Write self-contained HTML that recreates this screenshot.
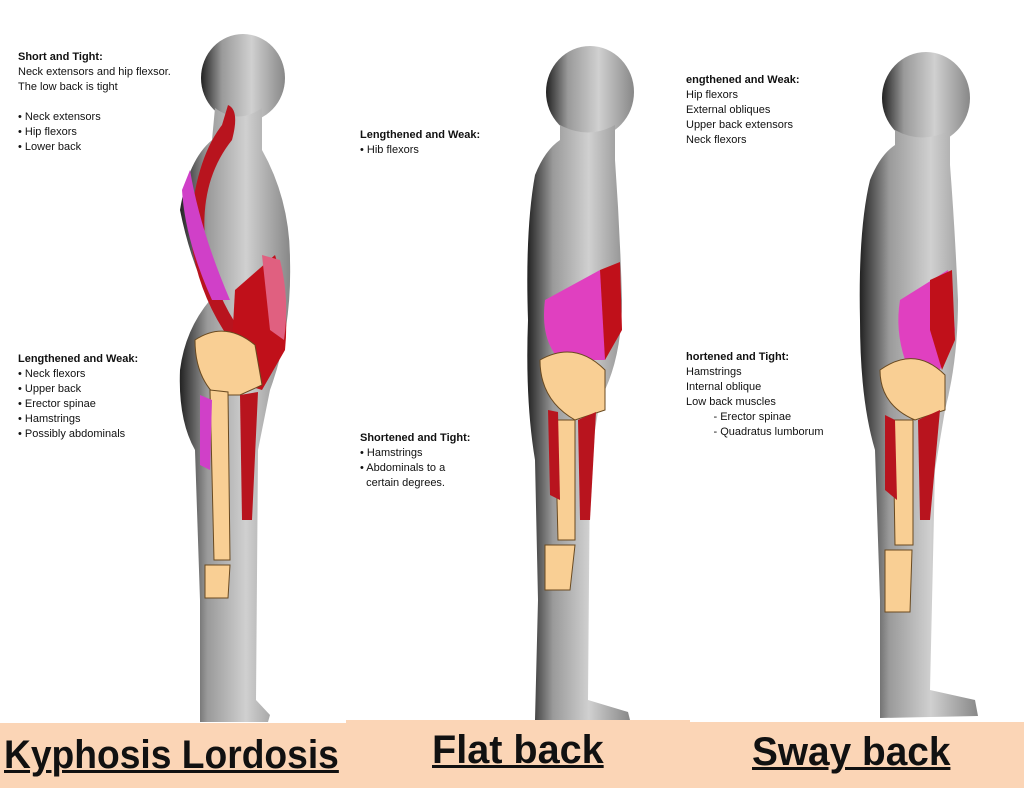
<!DOCTYPE html>
<html><head><meta charset="utf-8"><style>
html,body{margin:0;padding:0;background:#fff}
#w{position:relative;width:1024px;height:788px;overflow:hidden;font-family:"Liberation Sans",Arial,sans-serif}
.t{position:absolute;font-size:11px;line-height:15px;color:#111}
.t b{font-weight:bold}
.band{position:absolute;background:#fbd5b6}
.lab{position:absolute;font-family:"Liberation Sans Narrow","Liberation Sans",sans-serif;font-weight:bold;font-size:40px;text-decoration:underline;text-decoration-thickness:3px;color:#111;white-space:nowrap;transform-origin:0 0}
</style></head><body><div id="w">
<svg width="1024" height="788" style="position:absolute;left:0;top:0">
<defs>
<linearGradient id="g" x1="0" x2="1"><stop offset="0" stop-color="#222"/><stop offset=".25" stop-color="#9a9a9a"/><stop offset=".6" stop-color="#d0d0d0"/><stop offset="1" stop-color="#888"/></linearGradient>
</defs>
<!-- Figure 1 -->
<g fill="url(#g)">
<ellipse cx="243" cy="78" rx="42" ry="44"/>
<path d="M215 108 Q238 125 262 108 L262 150 Q290 200 290 260 Q292 330 270 390 L258 450 L256 700 L270 715 L268 722 L200 722 L200 600 L195 450 Q178 420 180 370 Q185 330 210 300 Q190 260 180 210 Q188 160 212 140 Z"/>
</g>
<path d="M228 105 Q240 110 232 140 Q200 180 205 240 Q212 290 240 330 L230 340 Q195 290 190 230 Q195 160 222 125 Z" fill="#b8141e"/>
<path d="M190 170 Q200 230 230 300 L212 300 Q185 240 182 190 Z" fill="#d040c8"/>
<path d="M235 290 L275 255 Q290 300 285 350 L262 390 L230 380 Z" fill="#c0101a"/>
<path d="M262 255 L280 260 Q290 300 284 340 L270 330 Z" fill="#e06080"/>
<path d="M195 340 Q225 320 255 345 L262 385 L240 395 L215 395 Q195 375 195 340 Z" fill="#f9cf94" stroke="#6a4a20" stroke-width="1"/>
<path d="M210 390 L228 392 L230 560 L214 560 Z" fill="#f9cf94" stroke="#6a4a20"/>
<path d="M205 565 L230 565 L228 598 L205 598 Z" fill="#f9cf94" stroke="#6a4a20"/>
<path d="M200 395 L212 400 L210 470 L200 465 Z" fill="#d040c8"/>
<path d="M240 395 L258 392 L252 520 L242 520 Z" fill="#b8141e"/>
<!-- Figure 2 -->
<g fill="url(#g)">
<ellipse cx="590" cy="92" rx="44" ry="46"/>
<path d="M560 125 Q588 140 615 125 L615 160 Q620 230 622 300 Q622 360 600 400 L590 460 L588 700 L628 712 L630 720 L535 720 L538 600 L535 460 Q525 400 528 320 Q525 230 535 175 Q545 150 560 140 Z"/>
</g>
<path d="M545 300 L600 270 L612 300 L605 360 L560 360 Q540 340 545 300 Z" fill="#e040c0"/>
<path d="M600 270 L620 262 L622 330 L605 360 Z" fill="#c0101a"/>
<path d="M540 360 Q575 340 605 370 L605 410 L575 420 Q540 400 540 360 Z" fill="#f9cf94" stroke="#6a4a20"/>
<path d="M555 420 L575 420 L575 540 L558 540 Z" fill="#f9cf94" stroke="#6a4a20"/>
<path d="M545 545 L575 545 L570 590 L545 590 Z" fill="#f9cf94" stroke="#6a4a20"/>
<path d="M548 410 L558 412 L560 500 L550 495 Z" fill="#b8141e"/>
<path d="M578 420 L596 412 L590 520 L580 520 Z" fill="#b8141e"/>
<!-- Figure 3 -->
<g fill="url(#g)">
<ellipse cx="926" cy="98" rx="44" ry="46"/>
<path d="M895 130 Q922 145 950 130 L950 165 Q955 230 958 300 Q958 360 945 410 L935 470 L930 690 L975 700 L978 716 L880 718 L880 600 L875 450 Q860 400 860 320 Q858 230 870 180 Q880 155 895 145 Z"/>
</g>
<path d="M900 300 L948 270 L955 330 L940 370 L905 360 Q895 330 900 300 Z" fill="#e040c0"/>
<path d="M930 280 L952 270 L955 340 L942 370 L930 330 Z" fill="#c0101a"/>
<path d="M880 370 Q915 345 945 375 L945 410 L915 420 Q880 405 880 370 Z" fill="#f9cf94" stroke="#6a4a20"/>
<path d="M893 420 L913 420 L913 545 L895 545 Z" fill="#f9cf94" stroke="#6a4a20"/>
<path d="M885 550 L912 550 L910 612 L885 612 Z" fill="#f9cf94" stroke="#6a4a20"/>
<path d="M885 415 L895 420 L897 500 L885 490 Z" fill="#b8141e"/>
<path d="M918 420 L940 410 L930 520 L920 520 Z" fill="#b8141e"/>
</svg>
<div class="t" style="left:18px;top:50px"><b>Short and Tight:</b><br>Neck extensors and hip flexsor.<br>The low back is tight<br><br>• Neck extensors<br>• Hip flexors<br>• Lower back</div>
<div class="t" style="left:18px;top:352px"><b>Lengthened and Weak:</b><br>• Neck flexors<br>• Upper back<br>• Erector spinae<br>• Hamstrings<br>• Possibly abdominals</div>
<div class="t" style="left:360px;top:128px"><b>Lengthened and Weak:</b><br>• Hib flexors</div>
<div class="t" style="left:360px;top:431px"><b>Shortened and Tight:</b><br>• Hamstrings<br>• Abdominals to a<br>&nbsp;&nbsp;certain degrees.</div>
<div class="t" style="left:686px;top:73px"><b>engthened and Weak:</b><br>Hip flexors<br>External obliques<br>Upper back extensors<br>Neck flexors</div>
<div class="t" style="left:686px;top:350px"><b>hortened and Tight:</b><br>Hamstrings<br>Internal oblique<br>Low back muscles<br>&nbsp;&nbsp;&nbsp;&nbsp;&nbsp;&nbsp;&nbsp;&nbsp;&nbsp;- Erector spinae<br>&nbsp;&nbsp;&nbsp;&nbsp;&nbsp;&nbsp;&nbsp;&nbsp;&nbsp;- Quadratus lumborum</div>
<div class="band" style="left:0;top:723px;width:346px;height:65px"></div>
<div class="band" style="left:346px;top:720px;width:344px;height:68px"></div>
<div class="band" style="left:690px;top:722px;width:334px;height:66px"></div>
<div class="lab" style="left:4px;top:733px;transform:scaleX(.93)">Kyphosis Lordosis</div>
<div class="lab" style="left:432px;top:728px;transform:scaleX(.99)">Flat back</div>
<div class="lab" style="left:752px;top:730px;transform:scaleX(.97)">Sway back</div>
</div></body></html>
